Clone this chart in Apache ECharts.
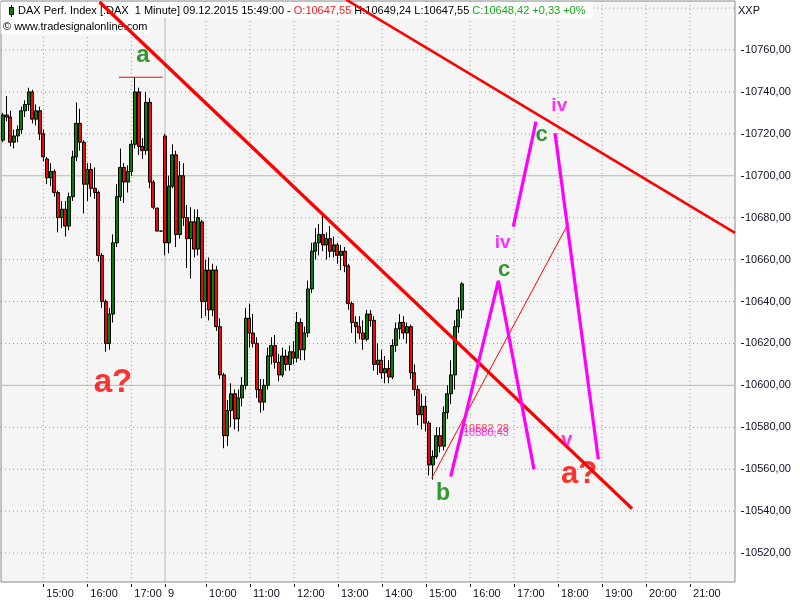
<!DOCTYPE html>
<html><head><meta charset="utf-8">
<script src="https://cdn.jsdelivr.net/npm/echarts@6/dist/echarts.min.js"></script>
<style>html,body{margin:0;padding:0;background:#fff}#c{width:800px;height:600px}</style>
</head><body><div id="c"></div>
<script>
// ---- axis ticks (x value = trading minutes on the compressed intraday scale) ----
const tickMinutes = [60,120,180,226,282,342,402,462,522,582,642,702,762,822,882,942];
const tickLabels = ['15:00','16:00','17:00','9','10:00','11:00','12:00','13:00','14:00','15:00','16:00','17:00','18:00','19:00','20:00','21:00'];
const priceTicks = [10520,10540,10560,10580,10600,10620,10640,10660,10680,10700,10720,10740,10760];
const gridPrices = [10520,10540,10560,10580,10620,10640,10660,10680,10720,10740,10760,10780];
const majorPrices = [10600,10700];
const dayBreakMinute = 226;

// ---- DAX candles, 08.12.2015 (5-minute aggregation of the 1-minute bars) ----
const day8Open  = [10717,10729,10728,10716,10719,10722,10731,10734,10740,10727,10731,10720,10708,10699,10702,10692,10680,10684,10676,10690,10709,10725,10716,10696,10703,10694,10692,10662,10640,10620,10634,10668,10690,10704,10697,10702,10715,10740,10714,10712,10735,10697,10684.6,10673.6];
const day8Close = [10729,10728,10716,10719,10722,10731,10734,10740,10727,10731,10720,10709,10699,10702,10692,10680,10684,10676,10690,10709,10725,10716,10696,10703,10694,10692,10662,10640,10620,10634,10668,10690,10704,10697,10702,10715,10740,10714,10712,10735,10697,10685,10673.6,10673.6];
const day8Low   = [10716,10726,10714,10713,10716,10720,10728,10731,10725,10724,10717,10707,10696,10695,10690,10673,10675,10671,10674,10688,10707,10712,10682,10688,10690,10689,10659,10637,10616,10617,10630,10666,10688,10687,10692,10700,10713,10710,10708,10710,10694,10684,10673.6,10673.6];
const day8High  = [10730,10738,10731,10722,10724,10733,10736,10742,10741,10734,10733,10722,10709,10706,10703,10693,10688,10688,10692,10712,10735,10732,10717,10706,10706,10704,10693,10663,10641,10637,10672,10696,10713,10706,10705,10717,10747,10742,10718,10740,10737,10698,10684.6,10673.6];

// ---- DAX candles, 09.12.2015 ----
const day9Open  = [10719,10668,10695,10710,10672,10700,10680,10670,10678,10665,10678,10640,10655,10636,10655,10628,10605,10576,10588,10596,10584,10594,10600,10632,10625,10620,10598,10592,10600,10614,10619,10611,10605,10614,10610,10616,10613,10630,10617,10625,10646,10664,10668,10672,10667,10670,10664,10667,10662,10664,10657,10639,10630,10628,10625,10622,10634,10631,10610,10612,10606,10608,10604,10619,10627,10630,10625,10628,10606,10598,10586,10590,10582,10562,10566,10576,10571,10587,10596,10605,10628,10636];
const day9Close = [10668,10695,10710,10672,10700,10680,10670,10678,10665,10680,10640,10655,10636,10655,10628,10605,10576,10588,10596,10584,10594,10600,10632,10625,10620,10598,10592,10600,10614,10619,10611,10605,10614,10610,10616,10613,10630,10617,10625,10646,10664,10668,10672,10667,10670,10664,10667,10662,10664,10657,10639,10630,10628,10625,10622,10634,10631,10610,10612,10606,10608,10604,10619,10627,10630,10625,10628,10606,10598,10586,10590,10582,10562,10566,10576,10571,10587,10596,10605,10628,10636,10648.42];
const day9Low   = [10662,10663,10694,10666,10670,10676,10656,10651,10661,10662,10632,10633,10631,10633,10626,10603,10570,10571,10580,10579,10578,10590,10598,10618,10618,10594,10587,10588,10598,10610,10608,10602,10604,10607,10607,10610,10611,10612,10612,10623,10644,10660,10662,10664,10660,10661,10661,10658,10655,10654,10636,10625,10620,10622,10617,10621,10628,10607,10605,10603,10601,10601,10603,10616,10622,10622,10620,10603,10595,10581,10579,10578,10557,10555,10565,10568,10569,10584,10591,10598,10625,10632];
const day9High  = [10720,10700,10715,10712,10707,10706,10686,10685,10684,10684,10679,10660,10661,10658,10657,10632,10606,10593,10601,10598,10598,10604,10637,10639,10634,10623,10603,10603,10618,10623,10624,10615,10618,10617,10619,10621,10635,10632,10628,10650,10668,10675,10677,10681,10673,10676,10671,10668,10667,10666,10658,10640,10633,10633,10631,10636,10636,10633,10620,10617,10614,10612,10622,10630,10634,10633,10630,10629,10610,10600,10596,10595,10583,10569,10580,10580,10590,10600,10612,10631,10642,10649.24];

// ---- drawn analysis lines: [minute, price] ----
const mainTrend   = [[136.6,10782.9],[862.8,10541.2]];
const upperTrend  = [[473.0,10784.0],[1003.2,10672.7]];
const thinTrend   = [[589.6,10555.7],[775.9,10677.3]];
const highMarker  = [[163.2,10747.0],[222.8,10747.0]];
const pathA       = [[615.5,10556.4],[680.5,10649.9],[729.1,10559.9]];
const pathB1      = [[700.9,10675.7],[731.8,10725.8]];
const pathB2      = [[757.8,10720.3],[816.8,10564.7]];

// ---- wave labels ----
const annText   = ['a','a?','b','iv','c','iv','c','v','a?','10582,28','10580,43'];
const annMinute = [195.9,155.0,605.0,686.5,688.2,763.6,739.6,773.7,790.5,632.3,632.3];
const annPrice  = [10757.5,10601.0,10548.5,10667.8,10655.0,10733.2,10719.5,10573.5,10557.5,10579.0,10577.4];

// ================== build ==================
const X_MIN = 2.3, X_MAX = 1003.2, Y_MIN = 10506.18, Y_MAX = 10783.38;
const candles = [];
day8Open.forEach((o, i) => candles.push([5 + 5 * i, o, day8Close[i], day8Low[i], day8High[i]]));
day9Open.forEach((o, i) => candles.push([dayBreakMinute + 5 * i, o, day9Close[i], day9Low[i], day9High[i]]));

const fmtPrice = v => v.toFixed(2).replace('.', ',');
const axisFont = 'Liberation Sans';
const annStyle = [
  {color:'#008000', fontSize:24, fontWeight:'bold'},
  {color:'#ff0000', fontSize:33, fontWeight:'bold'},
  {color:'#008000', fontSize:23, fontWeight:'bold'},
  {color:'#ff00ff', fontSize:19, fontWeight:'bold'},
  {color:'#008000', fontSize:22, fontWeight:'bold'},
  {color:'#ff00ff', fontSize:19, fontWeight:'bold'},
  {color:'#008000', fontSize:22, fontWeight:'bold'},
  {color:'#ff00ff', fontSize:20, fontWeight:'bold'},
  {color:'#ff0000', fontSize:31, fontWeight:'bold'},
  {color:'#ff2020', fontSize:11, fontWeight:'normal', left:true},
  {color:'#ff00ff', fontSize:11, fontWeight:'normal', left:true}
];
const annData = annText.map((t, i) => {
  const s = annStyle[i];
  return {
    value: [annMinute[i], annPrice[i]],
    label: {show:true, formatter:t, color:s.color, fontSize:s.fontSize, fontWeight:s.fontWeight,
      fontFamily:'Liberation Sans', position: s.left ? 'right' : 'inside', distance:0}
  };
});

function lineSeries(data, color, width, z, dash) {
  return {type:'line', data:data, symbol:'none', silent:true, z:z,
    lineStyle:{color:color, width:width, type: dash || 'solid'}, xAxisIndex:0, yAxisIndex:0, animation:false};
}
const gridSeries = [];
gridPrices.forEach(p => gridSeries.push(lineSeries([[X_MIN,p],[X_MAX,p]], '#8d9f8d', 1, 1, [1,3])));
majorPrices.forEach(p => gridSeries.push(lineSeries([[X_MIN,p],[X_MAX,p]], '#a3c4a3', 1, 1)));
tickMinutes.forEach(m => gridSeries.push(m === dayBreakMinute
  ? lineSeries([[m,Y_MIN],[m,Y_MAX]], '#a3c4a3', 1, 1)
  : lineSeries([[m,Y_MIN],[m,Y_MAX]], '#8d9f8d', 1, 1, [1,3])));

const hdrFont = 'Liberation Sans';
const chart = echarts.init(document.getElementById('c'));
chart.setOption({
  animation:false,
  backgroundColor:'#ffffff',
  grid:{left:1, top:1, width:734, height:581, show:true, backgroundColor:'#f5f5f5', borderColor:'#8a8a8a', borderWidth:1},
  xAxis:[{
    type:'value', min:X_MIN, max:X_MAX, position:'bottom',
    axisLine:{show:false}, splitLine:{show:false},
    axisTick:{show:false, customValues:tickMinutes},
    axisLabel:{customValues:tickMinutes, formatter:v => tickLabels[tickMinutes.indexOf(v)],
      align:'left', margin:6, padding:[0,0,0,3], fontSize:11, fontFamily:axisFont, color:'#101028'}
  },{
    type:'value', min:X_MIN, max:X_MAX, position:'bottom', offset:2,
    axisLine:{show:false}, splitLine:{show:false},
    axisTick:{show:true, length:3, customValues:tickMinutes, lineStyle:{color:'#202020'}},
    axisLabel:{show:false}
  }],
  yAxis:[{
    type:'value', min:Y_MIN, max:Y_MAX, position:'right',
    axisLine:{show:false}, splitLine:{show:false},
    axisTick:{show:false, customValues:priceTicks},
    axisLabel:{customValues:priceTicks, formatter:v => fmtPrice(v), margin:10,
      fontSize:11, fontFamily:axisFont, color:'#101028'}
  },{
    type:'value', min:Y_MIN, max:Y_MAX, position:'right', offset:6,
    axisLine:{show:false}, splitLine:{show:false},
    axisTick:{show:true, length:3, customValues:priceTicks, lineStyle:{color:'#202020'}},
    axisLabel:{show:false}
  }],
  series: gridSeries.concat([
    {
      type:'candlestick', data:candles, encode:{x:0, y:[1,2,3,4]},
      xAxisIndex:0, yAxisIndex:0, barWidth:3.4, z:3,
      itemStyle:{color:'#008000', color0:'#ff0000', borderColor:'#000', borderColor0:'#000', borderWidth:1}
    },
    lineSeries(highMarker, '#ff0000', 1, 6),
    lineSeries(mainTrend, '#ff0000', 3.3, 6),
    lineSeries(upperTrend, '#ff0000', 2.6, 6),
    lineSeries(thinTrend, '#ff0000', 1, 6),
    lineSeries(pathA, '#ff00ff', 3.2, 6),
    lineSeries(pathB1, '#ff00ff', 3.2, 6),
    lineSeries(pathB2, '#ff00ff', 3.2, 6),
    {type:'scatter', data:annData, symbolSize:0, silent:true, z:10, xAxisIndex:0, yAxisIndex:0}
  ]),
  graphic:[
    {type:'rect', shape:{x:1, y:2, width:592, height:16}, style:{fill:'#ffffff'}, z:4},
    {type:'rect', shape:{x:1, y:18, width:149, height:16}, style:{fill:'#ffffff'}, z:4},
    {type:'line', shape:{x1:11.5, y1:5, x2:11.5, y2:17}, style:{stroke:'#000', lineWidth:1}, z:4},
    {type:'rect', shape:{x:9.5, y:7.5, width:4, height:7}, style:{fill:'#008000', stroke:'#000', lineWidth:1}, z:4},
    {type:'text', left:18, top:5, z:4, style:{
      text:'{k|DAX Perf. Index [.DAX  1 Minute] 09.12.2015 15:49:00 - }{r|O:10647,55}{k| H:10649,24 L:10647,55 }{g|C:10648,42 +0,33 +0%}',
      rich:{k:{fill:'#000', fontSize:11, fontFamily:hdrFont},
            r:{fill:'#ff1a1a', fontSize:11, fontFamily:hdrFont},
            g:{fill:'#1aaa1a', fontSize:11, fontFamily:hdrFont}}}},
    {type:'text', left:3, top:21, z:4, style:{text:'© www.tradesignalonline.com', fill:'#000', fontSize:11, fontFamily:hdrFont}},
    {type:'text', left:738, top:5, z:4, style:{text:'XXP', fill:'#101028', fontSize:11, fontFamily:hdrFont}}
  ]
});
</script>
</body></html>
